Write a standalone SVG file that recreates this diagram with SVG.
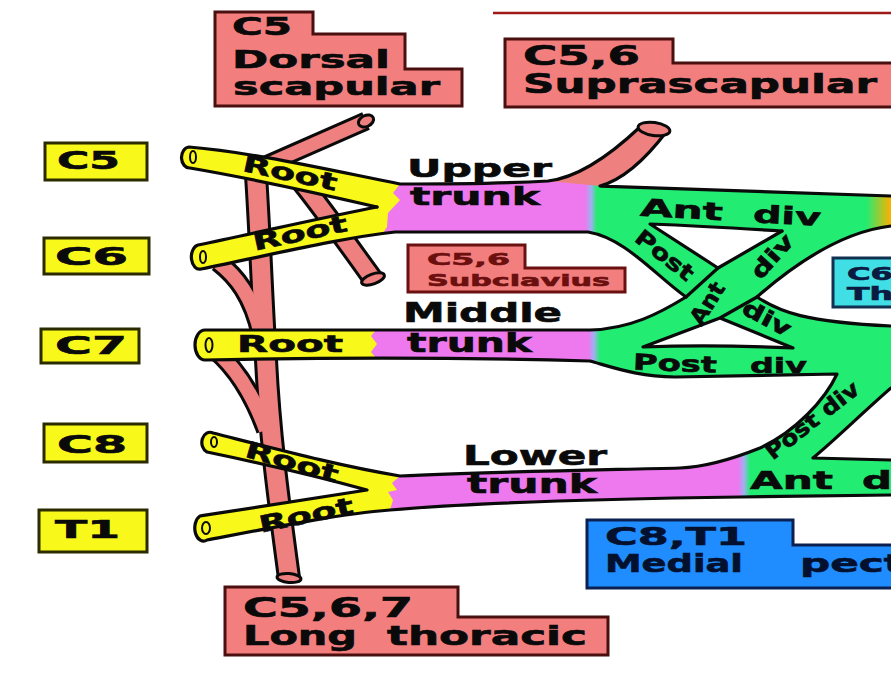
<svg xmlns="http://www.w3.org/2000/svg" width="891" height="675" viewBox="0 0 891 675">
  <defs>
    <style>
      .box { fill:#f27e7e; stroke:#4a0f0f; stroke-width:3; }
      .seg { fill:#f8f81a; stroke:#2b2b00; stroke-width:3; }
      .lbl { font-family:"DejaVu Sans","Liberation Sans",sans-serif; font-weight:bold; fill:#0a0a0a; stroke:#0a0a0a; stroke-width:0.6; }
      .edge { fill:none; stroke:#0a0a0a; stroke-width:3.2; stroke-linejoin:round; stroke-linecap:round; }
      .tubeO { fill:none; stroke:#0a0a0a; stroke-linecap:butt; }
      .tubeI { fill:none; stroke:#ee8080; stroke-linecap:butt; }
      .cap { fill:#ee8080; stroke:#0a0a0a; stroke-width:3; }
      .root { fill:#f8f81a; }
      .trunk { fill:#ee78ee; }
      .div { fill:#22ec72; }
    </style>
    <linearGradient id="mg" x1="0" y1="0" x2="1" y2="0">
      <stop offset="0" stop-color="#ee78ee"/>
      <stop offset="0.5" stop-color="#a0b0f0"/>
      <stop offset="1" stop-color="#22ec72"/>
    </linearGradient>
    <linearGradient id="og" x1="0" y1="0" x2="1" y2="0">
      <stop offset="0" stop-color="#22ec72"/>
      <stop offset="1" stop-color="#ffb000"/>
    </linearGradient>
  </defs>

  <rect width="891" height="675" fill="#ffffff"/>
  <line x1="493" y1="13" x2="891" y2="13" stroke="#a01818" stroke-width="2.5"/>

  <!-- nerve callout boxes -->
  <g id="dorsal-scapular">
    <polygon class="box" points="215,12 313,12 313,34 405,34 405,69 462,69 462,106 215,106"/>
    <text class="lbl" x="232" y="35" font-size="25" textLength="60" lengthAdjust="spacingAndGlyphs">C5</text>
    <text class="lbl" x="232" y="68" font-size="25" textLength="158" lengthAdjust="spacingAndGlyphs">Dorsal</text>
    <text class="lbl" x="233" y="95" font-size="25" textLength="207" lengthAdjust="spacingAndGlyphs">scapular</text>
  </g>
  <g id="suprascapular">
    <polygon class="box" points="505,39 673,39 673,63 895,63 895,107 505,107"/>
    <text class="lbl" x="523" y="65" font-size="26" textLength="117" lengthAdjust="spacingAndGlyphs">C5,6</text>
    <text class="lbl" x="523" y="93" font-size="26" textLength="354" lengthAdjust="spacingAndGlyphs">Suprascapular</text>
  </g>
  <g id="subclavius">
    <polygon class="box" points="408,245 525,245 525,268 625,268 625,292 408,292" style="stroke:#6b1010"/>
    <text class="lbl" x="427" y="265" font-size="16" textLength="83" lengthAdjust="spacingAndGlyphs" style="fill:#6b0f0f;stroke:#6b0f0f">C5,6</text>
    <text class="lbl" x="427" y="286" font-size="16" textLength="183" lengthAdjust="spacingAndGlyphs" style="fill:#6b0f0f;stroke:#6b0f0f">Subclavius</text>
  </g>
  <g id="long-thoracic">
    <polygon class="box" points="225,587 458,587 458,617 608,617 608,655 225,655"/>
    <text class="lbl" x="243" y="617" font-size="26" textLength="170" lengthAdjust="spacingAndGlyphs">C5,6,7</text>
    <text class="lbl" x="243" y="645" font-size="26" textLength="114" lengthAdjust="spacingAndGlyphs">Long</text>
    <text class="lbl" x="387" y="645" font-size="26" textLength="200" lengthAdjust="spacingAndGlyphs">thoracic</text>
  </g>
  <g id="medial-pectoral">
    <polygon points="587,520 793,520 793,545 895,545 895,588 587,588" fill="#1f8cff" stroke="#0a2050" stroke-width="3"/>
    <text class="lbl" x="605" y="545" font-size="25" textLength="142" lengthAdjust="spacingAndGlyphs" style="fill:#03102e;stroke:#03102e">C8,T1</text>
    <text class="lbl" x="605" y="572" font-size="25" textLength="138" lengthAdjust="spacingAndGlyphs" style="fill:#03102e;stroke:#03102e">Medial</text>
    <text class="lbl" x="800" y="572" font-size="25" textLength="104" lengthAdjust="spacingAndGlyphs" style="fill:#03102e;stroke:#03102e">pect</text>
  </g>
  <g id="thoracodorsal">
    <polygon points="833,258 895,258 895,307 833,307" fill="#40dfe6" stroke="#123050" stroke-width="3"/>
    <text class="lbl" x="847" y="280" font-size="17" textLength="46" lengthAdjust="spacingAndGlyphs" style="fill:#0a1a40;stroke:#0a1a40">C6</text>
    <text class="lbl" x="847" y="300" font-size="17" textLength="46" lengthAdjust="spacingAndGlyphs" style="fill:#0a1a40;stroke:#0a1a40">Th</text>
  </g>

  <!-- spinal segment tags -->
  <g id="seg-c5"><rect class="seg" x="45" y="143" width="102" height="37"/>
    <text class="lbl" x="57" y="169" font-size="24" textLength="63" lengthAdjust="spacingAndGlyphs">C5</text></g>
  <g id="seg-c6"><rect class="seg" x="44" y="238" width="105" height="36"/>
    <text class="lbl" x="55" y="265" font-size="24" textLength="73" lengthAdjust="spacingAndGlyphs">C6</text></g>
  <g id="seg-c7"><rect class="seg" x="41" y="329" width="98" height="34"/>
    <text class="lbl" x="55" y="354" font-size="24" textLength="72" lengthAdjust="spacingAndGlyphs">C7</text></g>
  <g id="seg-c8"><rect class="seg" x="44" y="424" width="103" height="38"/>
    <text class="lbl" x="57" y="453" font-size="24" textLength="70" lengthAdjust="spacingAndGlyphs">C8</text></g>
  <g id="seg-t1"><rect class="seg" x="39" y="510" width="108" height="42"/>
    <text class="lbl" x="55" y="538" font-size="24" textLength="65" lengthAdjust="spacingAndGlyphs">T1</text></g>

  <!-- plexus: roots, trunks, divisions and branches -->
  <g id="connectors">
    <!-- small branches (under the roots) -->
    <g id="branches">
      <path class="tubeO" stroke-width="24" d="M255,160 C260,230 262,300 266,360 C270,440 280,510 289,578"/>
      <path class="tubeO" stroke-width="20" d="M218,262 C236,276 252,295 261,335"/>
      <path class="tubeO" stroke-width="20" d="M215,350 C236,368 252,392 266,430"/>
      <path class="tubeO" stroke-width="19" d="M250,172 L366,121"/>
      <path class="tubeO" stroke-width="22" d="M298,178 C320,205 345,240 373,279"/>
      <path class="tubeI" stroke-width="18" d="M255,160 C260,230 262,300 266,360 C270,440 280,510 289,578"/>
      <path class="tubeI" stroke-width="14" d="M218,262 C236,276 252,295 261,335"/>
      <path class="tubeI" stroke-width="14" d="M215,350 C236,368 252,392 266,430"/>
      <path class="tubeI" stroke-width="13" d="M250,172 L366,121"/>
      <path class="tubeI" stroke-width="16" d="M298,178 C320,205 345,240 373,279"/>
      <ellipse class="cap" cx="366" cy="121" rx="8" ry="5.5" transform="rotate(-25 366 121)"/>
      <ellipse class="cap" cx="373" cy="279" rx="12" ry="5" transform="rotate(-20 373 279)"/>
      <ellipse class="cap" cx="289" cy="578" rx="12" ry="4.5" transform="rotate(5 289 578)"/>
    </g>

    <!-- root fills -->
    <path class="root" d="M189,147 C250,152 320,168 400,184 L402,205 L377,207 C330,196 260,180 190,168 A8,10.5 0 0 1 189,147 Z"/>
    <path class="root" d="M377,207 L402,200 L402,232 L395,232 C340,238 270,255 201,269 A8,12 0 0 1 198,245 C260,232 330,216 377,207 Z"/>
    <path class="root" d="M205,330 L386,330 L386,359 L205,360 A10,15 0 0 1 205,330 Z"/>
    <path class="root" d="M213,433 C280,450 340,466 400,476 L402,490 L367,490 C320,477 260,463 207,452 A8,10 0 0 1 213,433 Z"/>
    <path class="root" d="M367,490 L402,488 L402,509 L390,510 C340,514 280,526 207,540 A8,12 0 0 1 200,516 C260,507 320,497 367,490 Z"/>

    <!-- trunk fills -->
    <path class="trunk" d="M400,184 C450,184 510,183 548,181 L594,184 L594,232 L383,233 L387,227 L388,213 L400,200 L393,193 Z"/>
    <path class="trunk" d="M376,330 L594,330 L594,361 C500,358 430,357 376,358 L371,352 L377,344 L371,336 Z"/>
    <path class="trunk" d="M400,476 C480,472 600,470 680,468 C705,467 730,460 748,454 L748,497 L740,497 C600,499 480,502 390,510 L393,500 L388,492 L397,490 L392,483 Z"/>

    <!-- division fills -->
    <path class="div" d="M588,184 L600,186 C700,189 800,193 891,196 L891,226 C840,232 790,268 757,297 C780,312 805,322 891,326 L891,388 C860,415 835,440 813,458 L891,460 L891,495 L744,497 L744,456 C750,453 755,450 760,448 C795,432 825,400 837,374 L675,377 C640,377 615,368 592,361 L592,330 C630,329 660,313 686,297 C655,275 625,238 588,232 Z"/>
    <polygon points="585,183 597,185 597,232 585,232" fill="url(#mg)"/>
    <polygon points="588,330 600,330 600,364 588,362" fill="url(#mg)"/>
    <polygon points="738,458 750,452 750,497 738,497" fill="url(#mg)"/>
    <polygon points="866,195 891,196 891,226 866,229" fill="url(#og)"/>
    <path fill="#ffffff" d="M650,224 C700,226 750,229 782,231 L718,268 Z"/>
    <path fill="#ffffff" d="M643,347 L720,318 L793,348 C750,346 690,345 643,347 Z"/>

    <!-- suprascapular nerve leaving the upper trunk -->
    <path fill="#ee8080" d="M548,181 C575,178 605,160 640,127 L667,131 C645,160 622,180 600,186 Z"/>

    <!-- outlines -->
    <path class="edge" d="M377,207 C330,196 260,180 190,168 A8,10.5 0 0 1 189,147 C250,152 320,168 400,184 C450,184 510,183 548,181 C575,178 605,160 640,127"/>
    <path class="edge" d="M377,207 C330,216 260,232 198,245 A8,12 0 0 0 201,269 C270,255 340,238 395,232 L588,232 C625,238 655,275 686,297"/>
    <path class="edge" d="M782,231 L718,268 L686,297 C660,313 630,329 590,330 L205,330 A10,15 0 0 0 205,360 C300,358 450,357 590,361 C615,368 640,377 675,377 L837,374 C825,400 795,432 760,448 C730,460 705,467 680,468 C600,470 480,472 400,476 C340,466 280,450 213,433 A8,10 0 0 0 207,452 C260,463 320,477 367,490 C320,497 260,507 200,516 A8,12 0 0 0 207,540 C280,526 340,514 390,510 C480,502 600,499 740,497 L891,495"/>
    <path class="edge" d="M667,131 C645,160 622,180 600,186 C700,189 800,193 891,196"/>
    <path class="edge" d="M891,226 C840,232 790,268 757,297 L720,318 L643,347 C690,345 750,346 793,348 L720,318"/>
    <path class="edge" d="M782,231 C750,229 700,226 650,224 L718,268"/>
    <path class="edge" d="M757,297 C780,312 805,322 891,326"/>
    <path class="edge" d="M891,388 C860,415 835,440 813,458 L891,460"/>

    <!-- cut ends -->
    <ellipse class="cap" cx="654" cy="129" rx="16" ry="6.5" transform="rotate(8 654 129)"/>
    <g class="edge" style="stroke-width:2">
      <ellipse cx="193" cy="157" rx="3" ry="6"/>
      <ellipse cx="203" cy="257" rx="3" ry="6"/>
      <ellipse cx="209" cy="345" rx="3.5" ry="7"/>
      <ellipse cx="214" cy="442" rx="3" ry="5"/>
      <ellipse cx="206" cy="528" rx="4" ry="6"/>
    </g>
  </g>

  <!-- plexus labels -->
  <g id="labels" class="lbl">
    <text x="290" y="181" font-size="23" text-anchor="middle" textLength="96" lengthAdjust="spacingAndGlyphs" transform="rotate(12 290 173)">Root</text>
    <text x="300" y="241" font-size="23" text-anchor="middle" textLength="96" lengthAdjust="spacingAndGlyphs" transform="rotate(-12 300 233)">Root</text>
    <text x="237" y="352" font-size="23" textLength="106" lengthAdjust="spacingAndGlyphs">Root</text>
    <text x="292" y="470" font-size="23" text-anchor="middle" textLength="96" lengthAdjust="spacingAndGlyphs" transform="rotate(16 292 462)">Root</text>
    <text x="306" y="523" font-size="23" text-anchor="middle" textLength="96" lengthAdjust="spacingAndGlyphs" transform="rotate(-12 306 515)">Root</text>

    <text x="407" y="177" font-size="24" textLength="145" lengthAdjust="spacingAndGlyphs">Upper</text>
    <text x="410" y="205" font-size="24" textLength="130" lengthAdjust="spacingAndGlyphs">trunk</text>
    <text x="403" y="322" font-size="26" textLength="159" lengthAdjust="spacingAndGlyphs">Middle</text>
    <text x="407" y="352" font-size="26" textLength="125" lengthAdjust="spacingAndGlyphs">trunk</text>
    <text x="463" y="465" font-size="26" textLength="144" lengthAdjust="spacingAndGlyphs">Lower</text>
    <text x="467" y="493" font-size="26" textLength="130" lengthAdjust="spacingAndGlyphs">trunk</text>

    <text x="640" y="218" font-size="24" textLength="83" lengthAdjust="spacingAndGlyphs" transform="rotate(3 681 210)">Ant</text>
    <text x="753" y="224" font-size="24" textLength="68" lengthAdjust="spacingAndGlyphs" transform="rotate(3 787 216)">div</text>
    <text x="665" y="263" font-size="22" text-anchor="middle" textLength="68" lengthAdjust="spacingAndGlyphs" transform="rotate(38 665 255)">Post</text>
    <text x="767" y="326" font-size="22" text-anchor="middle" textLength="52" lengthAdjust="spacingAndGlyphs" transform="rotate(28 767 318)">div</text>
    <text x="707" y="311" font-size="22" text-anchor="middle" textLength="46" lengthAdjust="spacingAndGlyphs" transform="rotate(-58 707 303)">Ant</text>
    <text x="772" y="264" font-size="22" text-anchor="middle" textLength="52" lengthAdjust="spacingAndGlyphs" transform="rotate(-48 772 256)">div</text>
    <text x="633" y="371" font-size="22" textLength="84" lengthAdjust="spacingAndGlyphs" transform="rotate(2 675 364)">Post</text>
    <text x="750" y="373" font-size="22" textLength="57" lengthAdjust="spacingAndGlyphs">div</text>
    <text x="812" y="428" font-size="22" text-anchor="middle" textLength="112" lengthAdjust="spacingAndGlyphs" transform="rotate(-38 812 420)">Post div</text>
    <text x="750" y="489" font-size="24" textLength="83" lengthAdjust="spacingAndGlyphs">Ant</text>
    <text x="862" y="489" font-size="24" textLength="30" lengthAdjust="spacingAndGlyphs">d</text>
  </g>
</svg>
